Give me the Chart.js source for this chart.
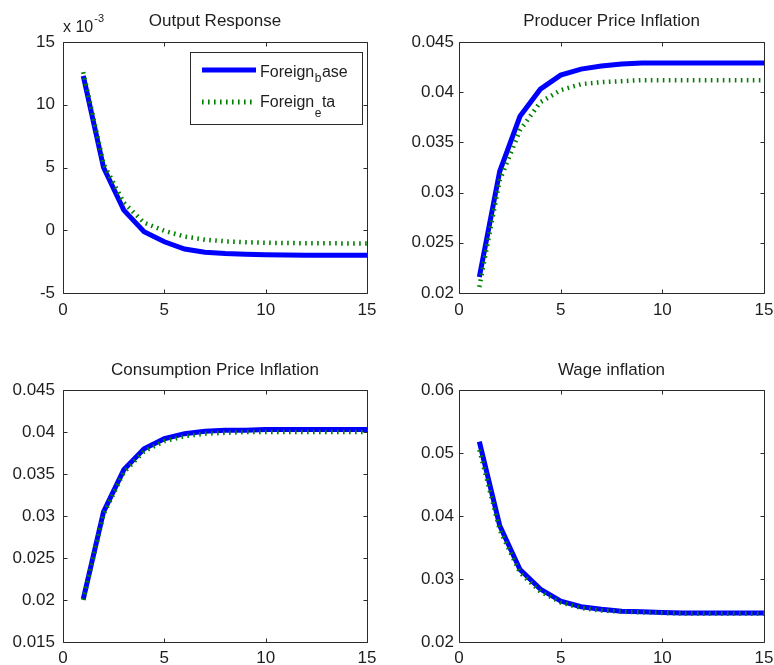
<!DOCTYPE html>
<html><head><meta charset="utf-8">
<script src="https://cdn.jsdelivr.net/npm/chart.js@4.4.0/dist/chart.umd.min.js"></script>
<style>
body{margin:0;background:#fff;width:774px;height:665px;position:relative;overflow:hidden}
.p{position:absolute}
canvas{display:block}
</style></head><body>
<div class="p" style="left:0;top:0"><canvas id="c1" width="387" height="330"></canvas></div>
<div class="p" style="left:387px;top:0"><canvas id="c2" width="387" height="330"></canvas></div>
<div class="p" style="left:0;top:330px"><canvas id="c3" width="387" height="335"></canvas></div>
<div class="p" style="left:387px;top:330px"><canvas id="c4" width="387" height="335"></canvas></div>
<script>
// ---- data ----
const periods = [1,2,3,4,5,6,7,8,9,10,11,12,13,14,15];
const xTickValues = [0,5,10,15];
const seriesNames = ['Foreign_base','Foreign_eta'];

// Output response (units of 10^-3)
const outputBase = [12.3, 5.0, 1.6, -0.12, -0.92, -1.5, -1.75, -1.86, -1.92, -1.96, -1.98, -1.99, -2.0, -2.0, -2.0];
const outputEta  = [12.6, 5.3, 2.2, 0.6, -0.05, -0.5, -0.75, -0.88, -0.95, -1.0, -1.02, -1.03, -1.04, -1.05, -1.05];
const outputTicks = [-5,0,5,10,15];
const outputTickLabels = ['-5','0','5','10','15'];

const ppiBase = [0.0216, 0.0321, 0.0376, 0.0403, 0.0417, 0.0423, 0.0426, 0.0428, 0.0429, 0.0429, 0.0429, 0.0429, 0.0429, 0.0429, 0.0429];
const ppiEta  = [0.0206, 0.0312, 0.0362, 0.0390, 0.0402, 0.0408, 0.0410, 0.0411, 0.0412, 0.0412, 0.0412, 0.0412, 0.0412, 0.0412, 0.0412];
const ppiTicks = [0.02,0.025,0.03,0.035,0.04,0.045];
const ppiTickLabels = ['0.02','0.025','0.03','0.035','0.04','0.045'];

const cpiBase = [0.0201, 0.0305, 0.0355, 0.0380, 0.0392, 0.0398, 0.0401, 0.0402, 0.0402, 0.0403, 0.0403, 0.0403, 0.0403, 0.0403, 0.0403];
const cpiEta  = [0.0200, 0.0302, 0.0352, 0.0377, 0.0389, 0.0395, 0.0398, 0.0399, 0.0400, 0.0400, 0.0400, 0.0400, 0.0400, 0.0400, 0.0400];
const cpiTicks = [0.015,0.02,0.025,0.03,0.035,0.04,0.045];
const cpiTickLabels = ['0.015','0.02','0.025','0.03','0.035','0.04','0.045'];

const wageBase = [0.0518, 0.0385, 0.0315, 0.0284, 0.0265, 0.0256, 0.0252, 0.0249, 0.0248, 0.0247, 0.0246, 0.0246, 0.0246, 0.0246, 0.0246];
const wageEta  = [0.0505, 0.0378, 0.0310, 0.0280, 0.0263, 0.0254, 0.0250, 0.0248, 0.0247, 0.0246, 0.0245, 0.0245, 0.0245, 0.0245, 0.0245];
const wageTicks = [0.02,0.03,0.04,0.05,0.06];
const wageTickLabels = ['0.02','0.03','0.04','0.05','0.06'];

// ---- styling ----
const FONT = "'Liberation Sans', Arial, Helvetica, sans-serif";
const TEXT = '#1e1e1e';
const AXIS = '#2b2b2b';
const BLUE = '#0000ff';
const GREEN = '#008000';
const GREEN_DASH = [1.6, 4.4];

const framePlugin = {
  id: 'frame',
  afterDatasetsDraw(chart) {
    const {ctx, chartArea: a, scales: {x, y}} = chart;
    const L = Math.round(a.left) + 0.5, R = Math.round(a.right) + 0.5;
    const T = Math.round(a.top) + 0.5, B = Math.round(a.bottom) + 0.5;
    ctx.save();
    ctx.strokeStyle = AXIS; ctx.lineWidth = 1;
    ctx.beginPath();
    ctx.rect(L, T, R - L, B - T);
    x.ticks.forEach(t => {
      const px = Math.round(x.getPixelForValue(t.value)) + 0.5;
      ctx.moveTo(px, B); ctx.lineTo(px, B - 4);
      ctx.moveTo(px, T); ctx.lineTo(px, T + 4);
    });
    y.ticks.forEach(t => {
      const py = Math.round(y.getPixelForValue(t.value)) + 0.5;
      ctx.moveTo(L, py); ctx.lineTo(L + 4, py);
      ctx.moveTo(R, py); ctx.lineTo(R - 4, py);
    });
    ctx.stroke();
    ctx.restore();
  }
};

function drawSubText(ctx, x, base, main, sub, rest, size, subSize, subDrop) {
  ctx.font = size + 'px ' + FONT;
  ctx.fillText(main, x, base);
  x += ctx.measureText(main).width;
  ctx.font = subSize + 'px ' + FONT;
  ctx.fillText(sub, x + 0.5, base + subDrop);
  x += ctx.measureText(sub).width + 1;
  ctx.font = size + 'px ' + FONT;
  ctx.fillText(rest, x, base);
}

const legendPlugin = {
  id: 'matlabLegend',
  afterDraw(chart) {
    const {ctx} = chart;
    ctx.save();
    ctx.fillStyle = '#fff';
    ctx.fillRect(190.5, 52.5, 172, 72);
    ctx.strokeStyle = AXIS; ctx.lineWidth = 1;
    ctx.strokeRect(190.5, 52.5, 172, 72);
    // base sample
    ctx.strokeStyle = BLUE; ctx.lineWidth = 5;
    ctx.beginPath(); ctx.moveTo(202, 70); ctx.lineTo(256, 70); ctx.stroke();
    // eta sample
    ctx.strokeStyle = GREEN; ctx.lineWidth = 5; ctx.lineCap = 'butt';
    ctx.setLineDash(GREEN_DASH);
    ctx.beginPath(); ctx.moveTo(202, 102); ctx.lineTo(256, 102); ctx.stroke();
    ctx.setLineDash([]);
    ctx.fillStyle = TEXT; ctx.textBaseline = 'alphabetic'; ctx.textAlign = 'left';
    const p0 = seriesNames[0].split('_'), p1 = seriesNames[1].split('_');
    drawSubText(ctx, 260, 77, p0[0], p0[1][0], p0[1].slice(1), 16, 12, 5);
    drawSubText(ctx, 260, 107, p1[0], p1[1][0], p1[1].slice(1), 16, 12, 10);
    ctx.restore();
  }
};

const exponentPlugin = {
  id: 'exponent',
  afterDraw(chart) {
    const {ctx} = chart;
    ctx.save();
    ctx.fillStyle = TEXT; ctx.textBaseline = 'alphabetic'; ctx.textAlign = 'left';
    ctx.font = '16px ' + FONT;
    ctx.fillText('x 10', 63, 32);
    const w = ctx.measureText('x 10').width;
    ctx.font = '11px ' + FONT;
    ctx.fillText('-3', 63 + w + 1, 22);
    ctx.restore();
  }
};

function makeChart(id, title, base, eta, ticks, tickLabels, dims, extraPlugins) {
  const toPts = arr => periods.map((p, i) => ({x: p, y: arr[i]}));
  return new Chart(document.getElementById(id), {
    type: 'line',
    data: {
      datasets: [
        {label: seriesNames[0], data: toPts(base), borderColor: BLUE, backgroundColor: BLUE,
         borderWidth: 5, pointRadius: 0, tension: 0, order: 2, fill: false},
        {label: seriesNames[1], data: toPts(eta), borderColor: GREEN, backgroundColor: GREEN,
         borderWidth: 4.5, borderDash: GREEN_DASH, borderCapStyle: 'butt',
         pointRadius: 0, tension: 0, order: 1, fill: false}
      ]
    },
    options: {
      responsive: false,
      animation: false,
      events: [],
      layout: {padding: {left: 0, right: dims.padR, top: 0, bottom: 0}},
      plugins: {
        legend: {display: false},
        tooltip: {enabled: false},
        title: {display: true, text: title, fullSize: false, color: TEXT,
          font: {family: FONT, size: 17, weight: 'normal', lineHeight: 1.2},
          padding: {top: dims.tTop, bottom: dims.tBot}}
      },
      scales: {
        x: {
          type: 'linear', min: 0, max: 15,
          grid: {display: false, drawTicks: false, tickLength: 0}, border: {display: false},
          ticks: {color: TEXT, font: {family: FONT, size: 17}, padding: dims.xPad, maxRotation: 0, autoSkip: false},
          afterBuildTicks: s => { s.ticks = xTickValues.map(v => ({value: v})); },
          afterFit: s => { s.height = dims.xh; s.paddingLeft = 0; s.paddingRight = 0; }
        },
        y: {
          type: 'linear', min: ticks[0], max: ticks[ticks.length - 1],
          grid: {display: false, drawTicks: false, tickLength: 0}, border: {display: false},
          ticks: {color: TEXT, font: {family: FONT, size: 17}, padding: dims.yPad, autoSkip: false,
            callback: (v, i) => tickLabels[i]},
          afterBuildTicks: s => { s.ticks = ticks.map(v => ({value: v})); },
          afterFit: s => { s.width = dims.yw; s.paddingTop = 0; s.paddingBottom = 0; }
        }
      }
    },
    plugins: [framePlugin].concat(extraPlugins || [])
  });
}

const topDims = {tTop: 10.8, tBot: 10.8, xh: 37, xPad: 7};
const botDims = {tTop: 30.5, tBot: 9.1, xh: 23, xPad: 6};
makeChart('c1', 'Output Response', outputBase, outputEta, outputTicks, outputTickLabels,
  Object.assign({yw: 63, padR: 20, yPad: 8}, topDims), [exponentPlugin, legendPlugin]);
makeChart('c2', 'Producer Price Inflation', ppiBase, ppiEta, ppiTicks, ppiTickLabels,
  Object.assign({yw: 72, padR: 10, yPad: 5}, topDims));
makeChart('c3', 'Consumption Price Inflation', cpiBase, cpiEta, cpiTicks, cpiTickLabels,
  Object.assign({yw: 63, padR: 20, yPad: 8}, botDims));
makeChart('c4', 'Wage inflation', wageBase, wageEta, wageTicks, wageTickLabels,
  Object.assign({yw: 72, padR: 10, yPad: 5}, botDims));
</script>
</body></html>
